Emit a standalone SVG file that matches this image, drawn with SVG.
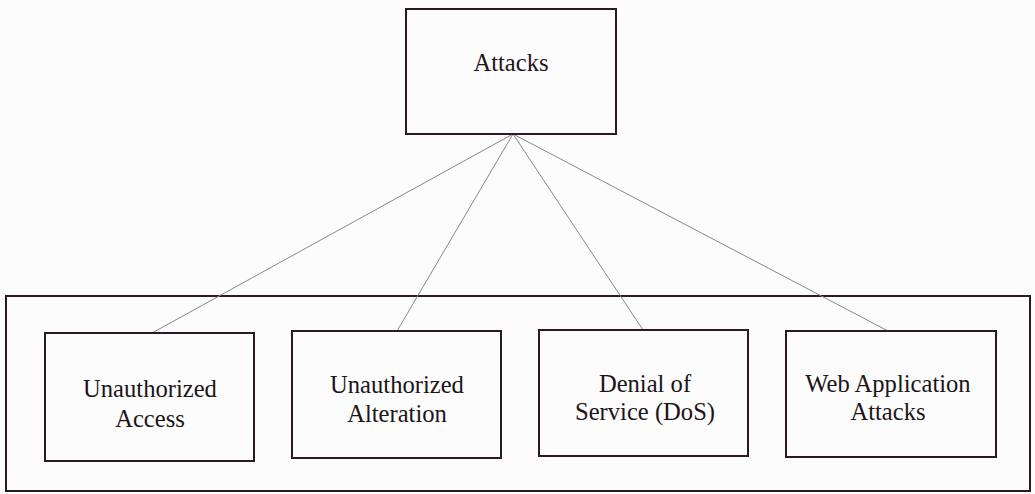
<svg xmlns="http://www.w3.org/2000/svg" width="1035" height="494" viewBox="0 0 1035 494">
  <style>
    .box { fill: none; stroke: #2b1a24; stroke-width: 2; }
    .link { stroke: #8a8494; stroke-width: 1; fill: none; }
    .lbl { font-family: "Liberation Serif", "Times New Roman", serif; font-size: 24.6px; fill: #1c1418; text-anchor: middle; }
  </style>
  <rect x="0" y="0" width="1035" height="494" fill="#fcfcfc"/>

  <!-- container around the attack categories -->
  <g id="categories-frame">
    <rect class="box" x="6" y="296" width="1024" height="195"/>
  </g>

  <!-- links from the root to each category -->
  <g id="connectors">
    <line class="link" x1="513" y1="134" x2="152" y2="333"/>
    <line class="link" x1="513" y1="134" x2="397" y2="331"/>
    <line class="link" x1="513" y1="134" x2="643" y2="330"/>
    <line class="link" x1="513" y1="134" x2="888" y2="331"/>
  </g>

  <g id="attacks">
    <rect class="box" x="406" y="9" width="210" height="125"/>
    <text class="lbl" x="511" y="71">Attacks</text>
  </g>

  <g id="unauthorized-access">
    <rect class="box" x="45" y="333" width="209" height="128"/>
    <text class="lbl" x="150" y="397">Unauthorized</text>
    <text class="lbl" x="150" y="427">Access</text>
  </g>

  <g id="unauthorized-alteration">
    <rect class="box" x="292" y="331" width="209" height="127"/>
    <text class="lbl" x="397" y="393">Unauthorized</text>
    <text class="lbl" x="397" y="422">Alteration</text>
  </g>

  <g id="denial-of-service">
    <rect class="box" x="539" y="330" width="209" height="126"/>
    <text class="lbl" x="645" y="392">Denial of</text>
    <text class="lbl" x="645" y="420">Service (DoS)</text>
  </g>

  <g id="web-application-attacks">
    <rect class="box" x="786" y="331" width="210" height="126"/>
    <text class="lbl" x="888" y="392">Web Application</text>
    <text class="lbl" x="888" y="420">Attacks</text>
  </g>
</svg>
